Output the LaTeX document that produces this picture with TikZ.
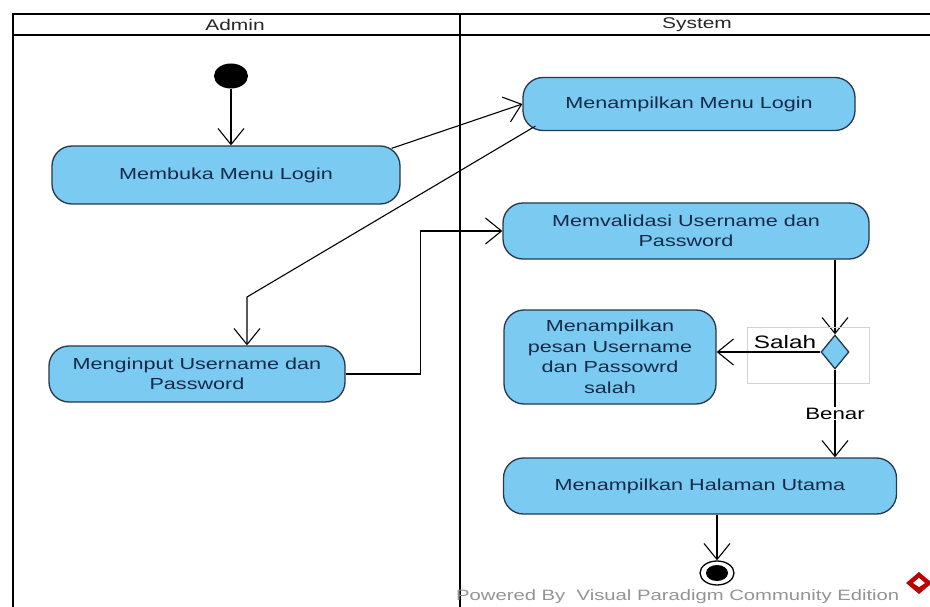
\documentclass[tikz,border=0pt]{standalone}
\usepackage{fontspec}
\usetikzlibrary{arrows.meta,shapes.geometric,calc,positioning}
\newfontfamily\vpfont[FakeStretch=1.35]{Liberation Sans}
\definecolor{actfill}{RGB}{122,202,242}
\definecolor{actline}{RGB}{38,56,74}
\definecolor{acttext}{RGB}{22,42,72}
\tikzset{
    actv/.style={draw=actline, line width=1.3pt, fill=actfill, rounded corners=20pt, align=center, text=acttext, font=\vpfont\fontsize{16}{20.5}\selectfont, inner sep=2pt},
    flow/.style={line width=1.1pt, -{Straight Barb[length=16pt, width=26pt, line width=1.1pt]}},
    lane/.style={line width=2.8pt},
    vpdot/.style={ellipse, fill=black, inner sep=0pt},
    lbl/.style={font=\vpfont\fontsize{16.5}{19}\selectfont, text=black, inner sep=1pt},
    lanehead/.style={font=\vpfont\fontsize{15.5}{17}\selectfont, text=black!85, inner sep=1pt}
}

\begin{document}
\begin{tikzpicture}[x=1pt, y=-1pt]
    \useasboundingbox (0,0) rectangle (930,607);
    \draw[lane] (930,14) -- (13,14) -- (13,607);
    \draw[lane] (13,35) -- (930,35);
    \draw[lane] (460,14) -- (460,607);
    \node[lanehead] (hAdmin) at (235,25) {Admin};
    \node[lanehead] (hSystem) at (697,25) {System};

    \node[vpdot, minimum width=34pt, minimum height=25pt] (start) at (231,76) {};
    \node[actv, minimum width=348pt, minimum height=58pt] (membuka) at (226,175) {Membuka Menu Login};
    \node[actv, minimum width=332pt, minimum height=53pt] (tampilLogin) at (689,104) {Menampilkan Menu Login};
    \node[actv, minimum width=366pt, minimum height=56pt] (validasi) at (686,231) {Memvalidasi Username dan\\Password};
    \node[actv, minimum width=296pt, minimum height=56pt] (input) at (197,374) {Menginput Username dan\\Password};
    \node[actv, minimum width=212pt, minimum height=94pt] (salahMsg) at (610,357) {Menampilkan\\pesan Username\\dan Passowrd\\salah};
    \node[actv, minimum width=393pt, minimum height=56pt] (utama) at (700,486) {Menampilkan Halaman Utama};
    \node[diamond, draw=actline, line width=1.3pt, fill=actfill, inner sep=0pt, minimum width=28pt, minimum height=34pt] (decision) at (835,352) {};
    \node[ellipse, draw=black, line width=1.3pt, fill=white, inner sep=0pt, minimum width=34pt, minimum height=24pt] (finish) at (717,573) {};
    \fill (finish) ellipse [x radius=11, y radius=8];

    \coordinate (bendA) at (247,297);
    \draw[flow] (start.south) -- (start.south |- membuka.north);
    \draw[flow] ($(membuka.north east)+(-9,3)$) -- (tampilLogin.west);
    \draw[flow] ($(tampilLogin.south west)+(13,-5)$) -- (bendA) -- (bendA |- input.north);
    \draw[flow] (input.east) -- ++(75,0) |- (validasi.west);
    \draw[flow] (decision |- validasi.south) -- (decision.north);
    \draw[gray!35, line width=0.6pt] (747,327) rectangle (869,383);
    \draw[flow] (decision.west) -- (decision.west -| salahMsg.east);
    \node[lbl, font=\vpfont\fontsize{18}{20}\selectfont] (salah) at (785,342) {Salah};
    \draw[flow] (decision.south) -- node[lbl, fill=white] (benar) {Benar} (decision |- utama.north);
    \draw[flow] (finish |- utama.south) -- (finish.north);

    \node[anchor=west, text=gray!85, font=\vpfont\fontsize{15}{17}\selectfont, inner sep=0pt] (vpmark) at (456,597) {Powered By\ \ Visual Paradigm Community Edition};
    \fill[red!75!black] (906,583) -- (919,572) -- (932,583) -- (919,594) -- cycle;
    \fill[white] (913,583) -- (919,578) -- (925,583) -- (919,587) -- cycle;
\end{tikzpicture}
\end{document}
